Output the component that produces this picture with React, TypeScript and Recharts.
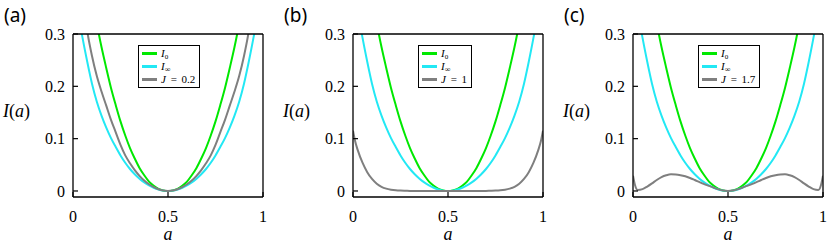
import React from "react";
import { LineChart, Line, XAxis, YAxis, Legend, Label } from "recharts";

const A = [
  0, 0.01, 0.025, 0.05, 0.075, 0.1, 0.125, 0.15, 0.175, 0.2, 0.225, 0.25, 0.275, 0.3, 0.325, 0.35, 0.375, 0.4, 0.425,
  0.45, 0.475, 0.5, 0.525, 0.55, 0.575, 0.6, 0.625, 0.65, 0.675, 0.7, 0.725, 0.75, 0.775, 0.8, 0.825, 0.85, 0.875, 0.9,
  0.925, 0.95, 0.975, 0.99, 1,
];

// I_0 (green)
const I0 = [
  0.595, 0.57, 0.533, 0.474, 0.419, 0.368, 0.32, 0.275, 0.235, 0.197, 0.164, 0.133, 0.106, 0.082, 0.062, 0.044, 0.03,
  0.018, 0.01, 0.004, 0.001, 0, 0.001, 0.004, 0.01, 0.018, 0.03, 0.044, 0.062, 0.082, 0.106, 0.133, 0.164, 0.197, 0.235,
  0.275, 0.32, 0.368, 0.419, 0.474, 0.533, 0.57, 0.595,
];

// I_inf (cyan)
const IINF = [
  0.41, 0.385, 0.345, 0.293, 0.247, 0.205, 0.171, 0.144, 0.121, 0.101, 0.084, 0.068, 0.054, 0.042, 0.032, 0.0235,
  0.0165, 0.0108, 0.0062, 0.0028, 0.0007, 0, 0.0007, 0.0028, 0.0062, 0.0108, 0.0165, 0.0235, 0.032, 0.042, 0.054, 0.068,
  0.084, 0.101, 0.121, 0.144, 0.171, 0.205, 0.247, 0.293, 0.345, 0.385, 0.41,
];

// J = 0.2
const J_A = [
  0.52, 0.49, 0.44, 0.37, 0.305, 0.258, 0.22, 0.19, 0.163, 0.136, 0.112, 0.088, 0.068, 0.053, 0.04, 0.029, 0.02, 0.0128,
  0.0072, 0.0032, 0.0008, 0, 0.0008, 0.0032, 0.0072, 0.0128, 0.02, 0.029, 0.04, 0.053, 0.068, 0.088, 0.112, 0.136, 0.163,
  0.19, 0.22, 0.258, 0.305, 0.37, 0.44, 0.49, 0.52,
];

// J = 1
const J_B = [
  0.115, 0.097, 0.078, 0.054, 0.036, 0.023, 0.014, 0.008, 0.0045, 0.0025, 0.0013, 0.0007, 0.0004, 0.0002, 0.0001,
  0.0001, 0, 0, 0, 0, 0, 0, 0, 0, 0, 0, 0, 0.0001, 0.0001, 0.0002, 0.0004, 0.0007, 0.0013, 0.0025, 0.0045, 0.008, 0.014,
  0.023, 0.036, 0.054, 0.078, 0.097, 0.115,
];

// J = 1.7
const J_C = [
  0.029, 0.012, 0.002, 0.0035, 0.0085, 0.0145, 0.021, 0.0265, 0.03, 0.0318, 0.0315, 0.0302, 0.028, 0.0248, 0.021, 0.017,
  0.0132, 0.0098, 0.0062, 0.003, 0.0008, 0, 0.0008, 0.003, 0.0062, 0.0098, 0.0132, 0.017, 0.021, 0.0248, 0.028, 0.0302,
  0.0315, 0.0318, 0.03, 0.0265, 0.021, 0.0145, 0.0085, 0.0035, 0.002, 0.012, 0.029,
];

const PANEL_TAGS = ["(a)", "(b)", "(c)"];
const J_VALUES = ["0.2", "1", "1.7"];
const J_SERIES = [J_A, J_B, J_C];
const X_TICKS = [0, 0.5, 1];
const Y_TICKS = [0, 0.1, 0.2, 0.3];

const GREEN = "#00e800";
const CYAN = "#22e8f4";
const GRAY = "#7f7f7f";
const SERIF = '"Liberation Serif", "Times New Roman", serif';

const tickStyle = { fill: "#000", fontSize: 16, fontFamily: SERIF };

const sub = (s: string, size: number) => (
  <span style={{ fontSize: size, lineHeight: "7px", position: "relative", top: 2 }}>{s}</span>
);

const legendLabel = (key: string, j: string) => {
  if (key === "i0")
    return (
      <span>
        <i>I</i>
        {sub("0", 7)}
      </span>
    );
  if (key === "iinf")
    return (
      <span>
        <i>I</i>
        {sub("∞", 8)}
      </span>
    );
  return (
    <span style={{ wordSpacing: 2 }}>
      <i>J</i> = {j}
    </span>
  );
};

const Panel = ({ idx }: { idx: number }) => {
  const jSeries = J_SERIES[idx];
  const rows = A.map((a, i) => ({ a, i0: I0[i], iinf: IINF[i], j: jSeries[i] }));

  return (
    <div style={{ position: "relative", width: 280, height: 252 }}>
      <span
        style={{
          position: "absolute",
          left: 4,
          top: 3,
          fontFamily: '"Noto Sans", sans-serif',
          fontSize: 19,
          lineHeight: "24px",
        }}
      >
        {PANEL_TAGS[idx]}
      </span>
      <LineChart width={280} height={252} data={rows} margin={{ top: 24, right: 7, bottom: 25, left: 33 }}>
        <XAxis
          dataKey="a"
          type="number"
          domain={[0, 1]}
          ticks={X_TICKS}
          allowDataOverflow
          height={30}
          tickSize={-5}
          tickMargin={19}
          stroke="#000"
          axisLine={{ stroke: "#000", strokeWidth: 1.3 }}
          tickLine={{ stroke: "#000", strokeWidth: 1.2 }}
          tick={tickStyle}
        >
          <Label
            content={({ viewBox }: any) => (
              <text
                x={viewBox.x + viewBox.width / 2}
                y={viewBox.y + 43}
                textAnchor="middle"
                fontFamily={SERIF}
                fontStyle="italic"
                fontSize={18}
              >
                a
              </text>
            )}
          />
        </XAxis>
        <XAxis
          xAxisId="top"
          orientation="top"
          dataKey="a"
          type="number"
          domain={[0, 1]}
          ticks={X_TICKS}
          allowDataOverflow
          height={10}
          tickSize={-5}
          tick={false}
          axisLine={{ stroke: "#000", strokeWidth: 1.3 }}
          tickLine={{ stroke: "#000", strokeWidth: 1.2 }}
        />
        <YAxis
          type="number"
          domain={[-0.0115, 0.3]}
          ticks={Y_TICKS}
          allowDataOverflow
          width={40}
          tickSize={-5}
          tickMargin={13}
          axisLine={{ stroke: "#000", strokeWidth: 1.3 }}
          tickLine={{ stroke: "#000", strokeWidth: 1.2 }}
          tick={tickStyle}
        >
          <Label
            content={({ viewBox }: any) => (
              <text x={viewBox.x - 30} y={117} fontFamily={SERIF} fontSize={18}>
                <tspan fontStyle="italic">I</tspan>(<tspan fontStyle="italic">a</tspan>)
              </text>
            )}
          />
        </YAxis>
        <YAxis
          yAxisId="right"
          orientation="right"
          type="number"
          domain={[-0.0115, 0.3]}
          ticks={Y_TICKS}
          allowDataOverflow
          width={10}
          tickSize={-5}
          tick={false}
          axisLine={{ stroke: "#000", strokeWidth: 1.3 }}
          tickLine={{ stroke: "#000", strokeWidth: 1.2 }}
        />
        <Legend
          layout="vertical"
          align="center"
          verticalAlign="middle"
          wrapperStyle={{ left: 138, top: 45, width: "auto", height: "auto" }}
          content={({ payload }: any) => (
            <div
              style={{
                border: "1.5px solid #000",
                background: "#fff",
                padding: "1px 4px 1px 3px",
                fontFamily: SERIF,
                fontSize: 11,
                lineHeight: "13px",
              }}
            >
              {(payload || []).map((entry: any) => (
                <div
                  key={entry.dataKey}
                  style={{ display: "flex", alignItems: "center", whiteSpace: "nowrap", height: 13 }}
                >
                  <span
                    style={{ display: "inline-block", width: 15, height: 2.5, background: entry.color, marginRight: 4 }}
                  />
                  {legendLabel(entry.dataKey, J_VALUES[idx])}
                </div>
              ))}
            </div>
          )}
        />
        <Line
          type="monotone"
          dataKey="i0"
          stroke={GREEN}
          strokeWidth={2}
          dot={false}
          isAnimationActive={false}
        />
        <Line
          type="monotone"
          dataKey="iinf"
          stroke={CYAN}
          strokeWidth={2}
          dot={false}
          isAnimationActive={false}
        />
        <Line
          type="monotone"
          dataKey="j"
          stroke={GRAY}
          strokeWidth={2}
          dot={false}
          isAnimationActive={false}
        />
      </LineChart>
    </div>
  );
}

export default function App() {
  return (
    <div style={{ display: "flex", width: 830, height: 252, background: "#fff" }}>
      <style>{"body{margin:0}"}</style>
      {PANEL_TAGS.map((_, i) => (
        <Panel key={i} idx={i} />
      ))}
    </div>
  );
}
